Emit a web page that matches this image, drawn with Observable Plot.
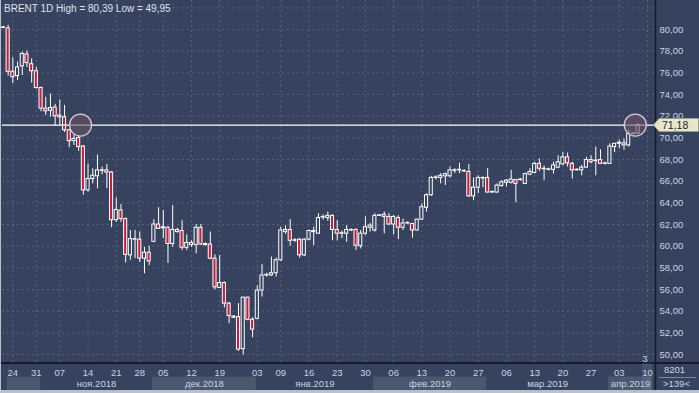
<!DOCTYPE html>
<html>
<head>
<meta charset="utf-8">
<script src="https://cdn.jsdelivr.net/npm/d3@7"></script>
<script src="https://cdn.jsdelivr.net/npm/@observablehq/plot@0.6"></script>
<style>
html, body { margin: 0; padding: 0; background: #36425e; }
#wrap { position: relative; width: 699px; height: 393px; overflow: hidden; background: #36425e; font-family: "Liberation Sans", Arial, sans-serif; }
#wrap svg { display: block; }
#axisbox { background: #39465f; }
.ov { position: absolute; white-space: nowrap; pointer-events: none; }
</style>
</head>
<body>
<div id="wrap"></div>
<script>
// ---- data ----
const opens = [80.15,80.1,76.1,75.7,76.6,77.7,76.8,76.15,74.6,72.7,72.5,72.8,71.9,71.9,70.7,69.7,70.0,69.2,65.15,66.2,
66.45,66.95,67.0,66.8,62.4,63.3,62.5,59.15,60.6,60.6,58.85,59.4,60.4,62.0,61.65,61.7,60.2,61.5,61.4,59.85,
60.3,60.1,61.7,60.1,60.15,58.85,56.15,56.6,54.7,53.4,53.45,50.5,55.25,53.2,53.3,55.9,57.3,57.3,57.5,58.7,
61.3,61.5,60.5,60.6,59.15,60.6,61.3,61.15,62.65,62.6,62.8,61.5,61.15,61.15,61.45,61.5,60.0,61.15,61.7,61.45,
62.8,62.9,62.7,62.0,62.6,61.7,62.1,62.05,61.45,62.45,63.55,64.7,66.3,66.3,66.45,66.45,66.95,67.0,66.95,66.85,
64.6,65.4,66.25,66.3,64.95,64.95,65.55,65.85,65.85,66.1,66.1,65.75,66.6,66.75,67.6,67.1,67.05,67.05,67.25,67.55,
68.2,67.6,67.0,67.0,67.25,67.95,67.85,67.95,67.6,67.6,69.15,69.45,69.5,69.3,70.35,70.4];
const highs = [80.3,80.39,77.4,77.0,77.9,78.0,77.3,76.5,74.7,73.75,74.05,73.1,73.5,73.0,70.8,70.3,70.2,69.3,67.6,67.15,
68.4,67.3,67.55,66.9,64.45,63.85,62.6,61.45,61.45,61.3,59.9,60.0,62.45,63.55,63.3,61.8,63.75,61.65,62.35,61.05,
60.5,62.0,62.0,60.3,61.3,59.2,59.15,56.7,54.8,53.6,54.7,55.3,55.3,53.4,56.35,58.3,57.5,59.0,58.9,61.75,
61.9,62.45,60.7,60.7,60.7,61.5,61.75,63.0,62.9,63.15,62.9,62.35,61.4,61.9,61.6,61.6,61.45,62.7,62.1,63.0,
62.9,63.15,63.0,62.85,62.8,62.5,62.25,62.1,62.5,63.9,64.85,66.45,66.5,66.7,66.75,67.3,67.15,67.65,67.05,67.55,
66.3,66.5,66.4,67.15,65.1,65.75,66.05,66.15,67.0,66.15,66.25,66.75,67.15,67.75,68.05,67.4,67.2,67.75,68.35,68.65,
68.6,67.75,67.15,67.45,68.2,68.35,69.15,68.9,67.75,69.45,69.5,69.8,69.9,70.7,70.5,71.3];
const lows = [80.1,75.7,75.0,75.3,75.75,76.5,75.05,74.5,72.4,72.05,71.9,71.1,71.15,70.5,69.1,69.3,68.75,64.7,65.0,65.75,
65.3,66.6,65.3,61.7,62.2,62.2,58.45,58.7,58.85,58.5,57.45,58.2,60.35,61.55,60.7,58.4,59.9,61.2,59.6,59.6,
59.9,59.3,60.05,60.0,58.75,55.95,56.1,54.3,52.85,53.3,50.3,49.95,53.1,51.55,53.2,55.3,57.15,57.2,57.15,58.6,
61.1,60.0,60.35,58.9,59.05,60.5,60.05,61.1,62.4,62.3,60.5,60.5,60.7,60.35,61.35,59.6,59.75,61.0,61.3,61.3,
62.75,61.15,61.9,61.05,60.6,61.45,62.0,60.75,61.4,62.4,63.15,64.6,66.1,65.75,65.6,66.3,66.7,66.7,66.8,64.5,
64.2,64.85,65.4,64.9,64.9,64.9,65.45,65.45,65.75,64.0,66.0,65.7,66.5,66.7,66.9,66.05,66.95,66.65,67.15,67.45,
67.3,66.2,66.95,66.5,67.2,67.6,66.5,67.55,67.5,67.55,68.65,69.0,68.85,69.15,70.3,70.3];
const closes = [80.2,76.1,75.6,76.5,77.75,76.9,76.15,74.6,72.7,72.45,72.75,72.0,72.05,70.7,69.7,69.9,69.15,65.15,66.2,66.5,
67.0,67.0,66.8,62.4,63.35,62.5,59.2,60.65,60.65,58.85,59.4,58.6,62.0,61.6,61.75,60.2,61.5,61.3,59.85,60.3,
60.1,61.7,60.15,60.2,58.85,56.2,56.6,54.7,53.55,53.5,50.45,55.25,53.2,52.3,55.9,57.3,57.35,57.5,58.7,61.45,
61.5,60.5,60.55,59.15,60.6,61.4,61.4,62.6,62.7,62.8,61.5,61.15,61.2,61.5,61.5,60.05,61.15,61.75,61.9,62.8,
62.85,62.7,62.0,62.7,61.7,62.1,62.15,61.45,62.45,63.6,64.7,66.3,66.35,66.5,66.65,67.0,67.0,67.05,66.9,64.6,
65.4,66.3,66.3,64.95,65.0,65.6,65.9,66.05,66.15,65.75,66.15,66.65,66.85,67.6,67.15,67.15,67.1,67.45,67.75,68.2,
67.65,67.0,67.05,67.25,67.95,67.75,67.9,67.6,67.65,69.2,69.45,69.55,69.3,70.35,70.4,71.18];

// x axis: candle index of each labelled day and its label
const dayTickIdx = [2,7,12,18,24,29,34,40,46,54,59,65,71,77,83,89,95,101,107,113,119,125,131,137];
const dayTickLabels = ["24","31","07","14","21","28","05","12","19","03","09","16","23","30","06","13","20","27","06","13","20","27","03","10"];
// month bands (candle-index edges) and labels
const monthEdges = [0.8,7.9,31.7,53.8,78.7,102.8,128.7,138.1];
const monthLabels = ["","ноя.2018","дек.2018","янв.2019","фев.2019","мар.2019","апр.2019"];
// y grid and labelled ticks
const yGrid = d3.range(50, 82.01, 2);
const yTicks = d3.range(50, 80.01, 2);
// circled crossings of the last price level
const markerIdx = [16.4, 134.4];
const titleText = "BRENT 1D High = 80,39 Low = 49,95";
const cornerTop = "8201", cornerBottom = ">139<", barCount = "3";

// ---- chart ----
const BG = "#36425e";
const GRID = "#56627e";
const TXT = "#c9d3e6";
const RED = "#c61f3b";
const FONT = "'Liberation Sans', Arial, sans-serif";
const xDomain = [-0.2, 138.7];
const fmt = d => d.toFixed(2).replace(".", ",");

const rows = opens.map((o, i) => ({i, o, h: highs[i], l: lows[i], c: closes[i]}));
const level = closes[closes.length - 1];
const markers = markerIdx.map(i => ({i, v: level}));
const ticksX = dayTickIdx.map((i, k) => ({i, label: dayTickLabels[k]}));
const bands = monthLabels.map((label, k) => ({x1: monthEdges[k], x2: monthEdges[k + 1], label, lit: k % 2 === 0}));

const wrap = document.getElementById("wrap");

const main = Plot.plot({
  width: 699, height: 363,
  marginLeft: 2, marginRight: 44, marginTop: 0, marginBottom: 0,
  style: {background: "transparent", fontFamily: FONT, fontSize: "9.5px", color: TXT},
  x: {domain: xDomain, axis: null},
  y: {domain: [49.17, 82.68], axis: null},
  marks: [
    Plot.gridY(yGrid, {stroke: GRID, strokeOpacity: 1, strokeDasharray: "2,3"}),
    Plot.gridX(dayTickIdx, {stroke: GRID, strokeOpacity: 1, strokeDasharray: "2,3"}),
    Plot.axisY(yTicks, {anchor: "right", tickSize: 0, tickPadding: 4, tickFormat: fmt, fill: TXT, fontSize: 9.5}),
    Plot.ruleX(rows, {x: "i", y1: "l", y2: "h", stroke: "#ffffff", strokeWidth: 1}),
    Plot.rect(rows, {
      x1: d => d.i - 0.33, x2: d => d.i + 0.33, y1: "o", y2: "c",
      fill: d => d.c < d.o ? RED : BG, stroke: "#ffffff", strokeWidth: 1
    }),
    Plot.ruleY([level], {stroke: "#ffffff", strokeWidth: 1.2}),
    Plot.dot(markers, {x: "i", y: "v", r: 11, fill: "#6a5468", fillOpacity: 0.6, stroke: "#d9c6d0", strokeWidth: 1.3}),
    Plot.frame({anchor: "right", stroke: "#141a26", strokeWidth: 1.5}),
    Plot.text([barCount], {frameAnchor: "bottom-right", dx: -8, dy: -2, fill: TXT, fontSize: 9.5})
  ]
});

const axis = Plot.plot({
  width: 699, height: 30,
  marginLeft: 2, marginRight: 44, marginTop: 0, marginBottom: 0,
  style: {background: "transparent", fontFamily: FONT, fontSize: "9.5px", color: TXT},
  x: {domain: xDomain, axis: null},
  y: {domain: [0, 30], range: [0, 30], axis: null},
  marks: [
    Plot.rect(bands.filter(b => b.lit), {x1: "x1", x2: "x2", y1: 13.5, y2: 27, fill: "#4b576f"}),
    Plot.text(ticksX, {x: "i", y: 9, text: "label", fill: TXT, fontSize: 9.5}),
    Plot.text(bands.filter(b => b.label), {x: d => (d.x1 + d.x2) / 2, y: 20.3, text: "label", fill: TXT, fontSize: 9.5}),
    Plot.frame({anchor: "right", stroke: "#141a26", strokeWidth: 1.5})
  ]
});
axis.id = "axisbox";

wrap.appendChild(main);
wrap.appendChild(axis);

// overlays: title, black axis line, price label, corner box, borders
function ov(html, css) {
  const d = document.createElement("div");
  d.className = "ov";
  d.innerHTML = html;
  Object.assign(d.style, css);
  wrap.appendChild(d);
  return d;
}
ov(titleText, {left: "4px", top: "3px", color: "#dde2ec", fontSize: "10px"});
ov("", {left: "0px", top: "362px", width: "699px", height: "1.5px", background: "#141a26"});

const yPix = main.scale("y").apply(level);
const lab = document.createElementNS("http://www.w3.org/2000/svg", "svg");
lab.setAttribute("width", "46"); lab.setAttribute("height", "14");
lab.style.position = "absolute"; lab.style.left = "653px"; lab.style.top = (yPix - 7) + "px";
lab.innerHTML = `<path d="M0.5,7 L6,0.5 L45.5,0.5 L45.5,13.5 L6,13.5 Z" fill="#e7e8cb" stroke="#9a9c86"/>
<text x="9" y="10.5" font-family="${FONT}" font-size="10.5" fill="#1e2230">${fmt(level)}</text>`;
wrap.appendChild(lab);

ov(cornerTop, {left: "664px", top: "364px", color: TXT, fontSize: "9.5px"});
ov("", {left: "659px", top: "377px", width: "37px", height: "1px", background: "#7d879b"});
ov(cornerBottom, {left: "663px", top: "378px", color: TXT, fontSize: "9.5px"});
ov("", {left: "642px", top: "363px", width: "10px", height: "28px", background: "rgba(150,160,175,0.18)"});
ov("", {left: "0px", top: "0px", width: "1px", height: "393px", background: "#b9c0cb"});
ov("", {left: "0px", top: "390px", width: "699px", height: "3px", background: "#b9c0cb"});
</script>
</body>
</html>
